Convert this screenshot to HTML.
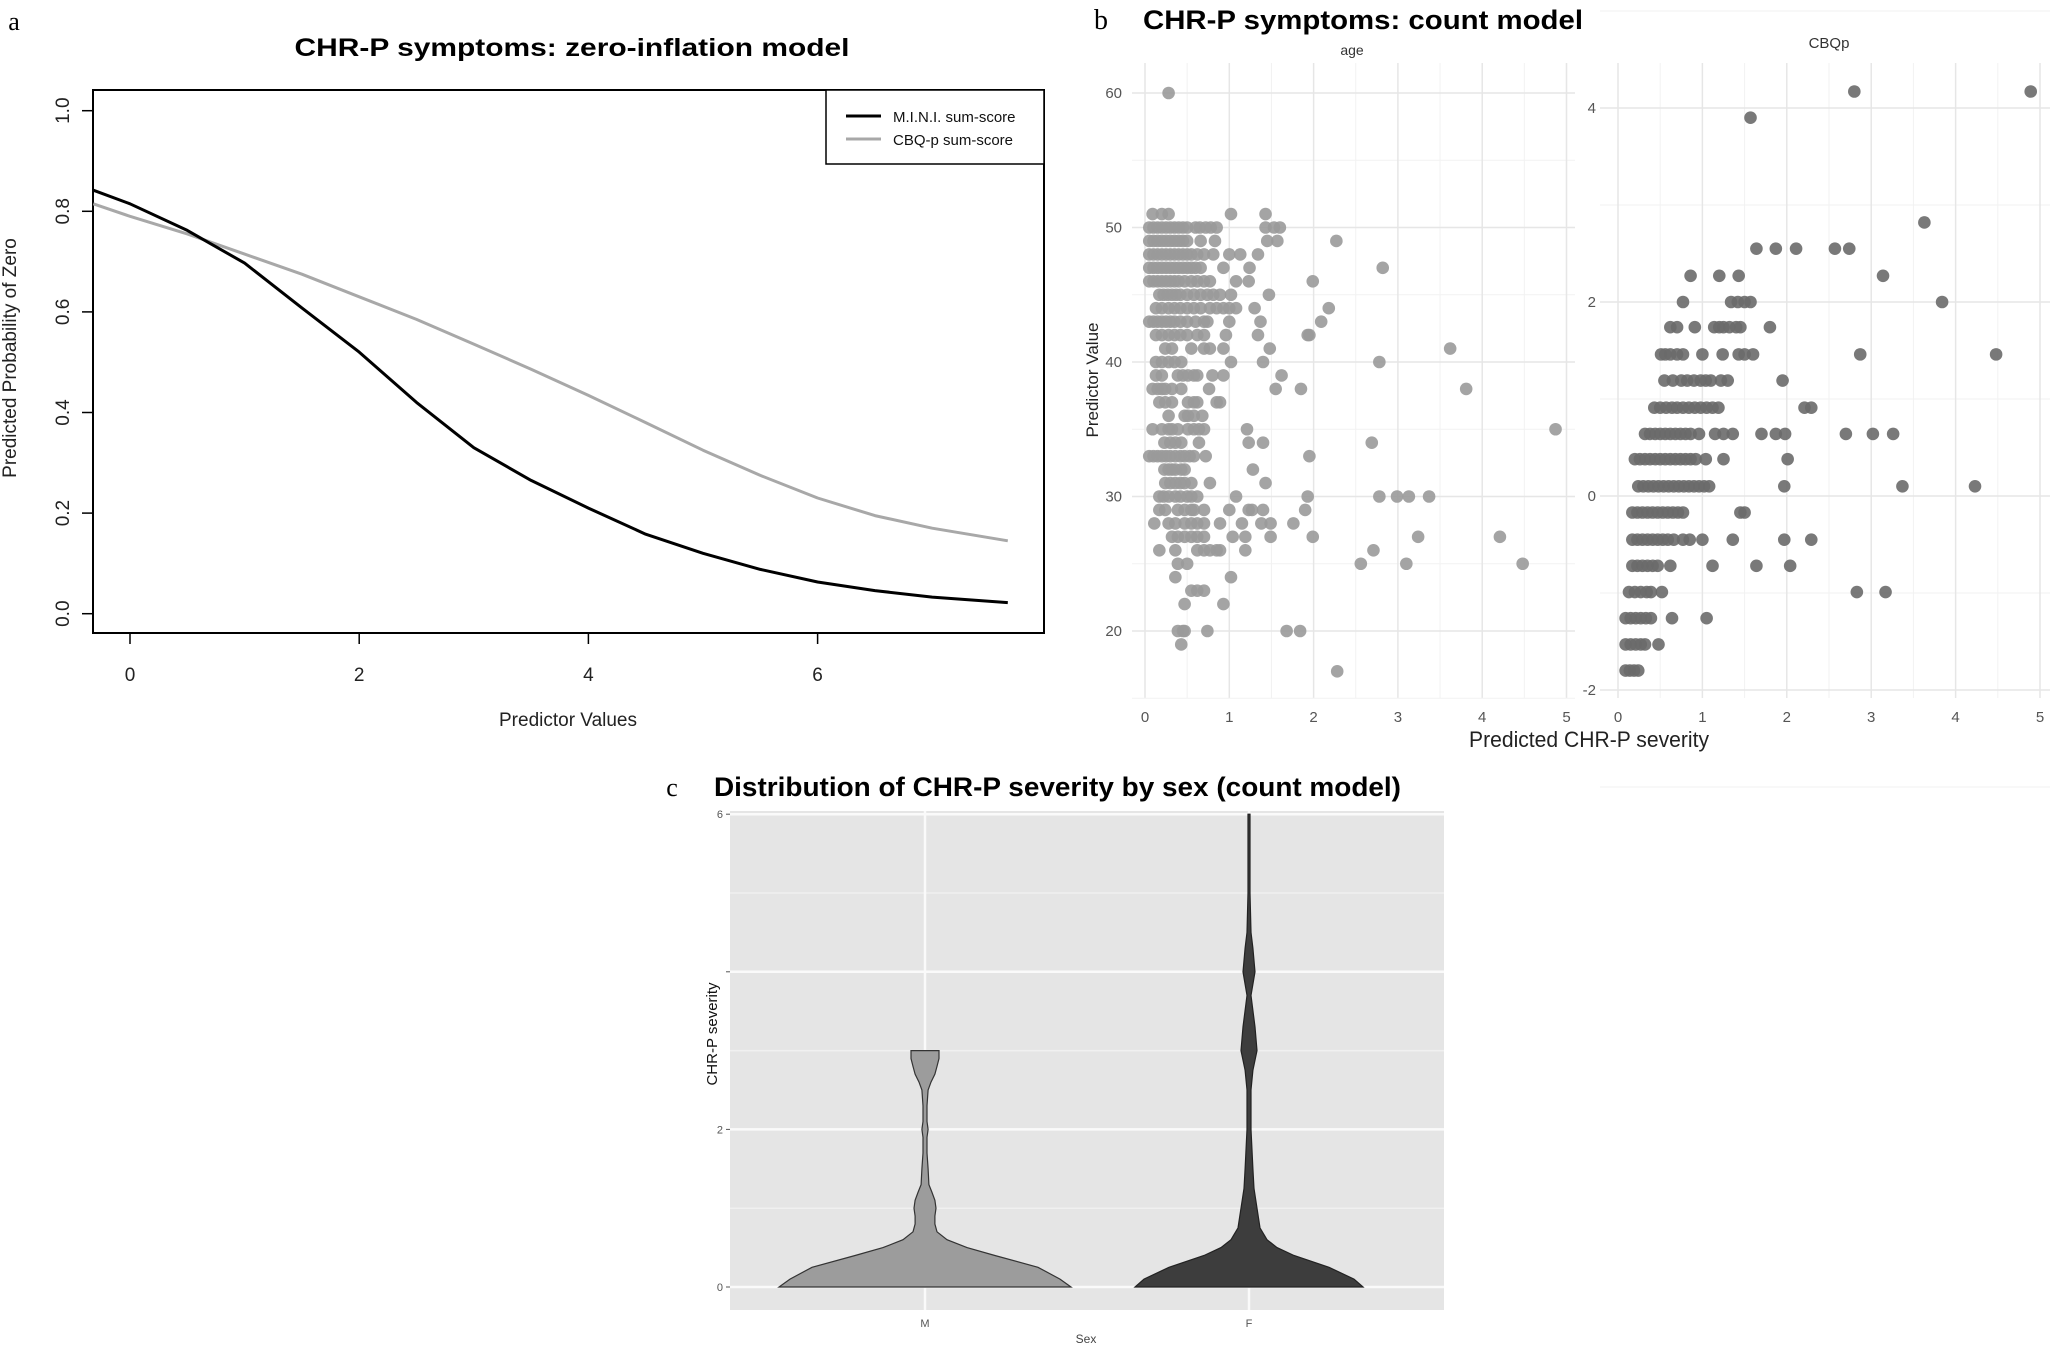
<!DOCTYPE html>
<html><head><meta charset="utf-8"><style>
html,body{margin:0;padding:0;background:#fff;}
svg{display:block;font-family:"Liberation Sans",Arial,sans-serif;}
</style></head><body>
<svg id="fig" width="2053" height="1348" viewBox="0 0 2053 1348" xmlns="http://www.w3.org/2000/svg">
<rect x="0" y="0" width="2053" height="1348" fill="#fff"/>
<g id="pa"></g>
<g id="pb"></g>
<g id="pc"></g>
</svg>
<script>
// ---------- Panel A data ----------
const aX = [-0.32, 0, 0.5, 1, 1.5, 2, 2.5, 3, 3.5, 4, 4.5, 5, 5.5, 6, 6.5, 7, 7.66];
const miniY = [0.842, 0.815, 0.762, 0.697, 0.608, 0.52, 0.42, 0.33, 0.265, 0.21, 0.158, 0.12, 0.088, 0.063, 0.046, 0.033, 0.022];
const cbqY = [0.815, 0.79, 0.755, 0.715, 0.675, 0.63, 0.585, 0.536, 0.486, 0.434, 0.38, 0.325, 0.275, 0.23, 0.195, 0.17, 0.145];
const aXTicks = [0, 2, 4, 6];
const aYTicks = [0, 0.2, 0.4, 0.6, 0.8, 1.0];
const aYTickLabels = ["0.0", "0.2", "0.4", "0.6", "0.8", "1.0"];

// ---------- Panel B data ----------
const ageLevels = [60,51,50,49,48,47,46,45,44,43,42,41,40,39,38,37,36,35,34,33,32,31,30,29,28,27,26,25,24,23,22,20,19,17];
const ageXs = [
[0.28],
[0.09,0.2,0.28,1.02,1.43],
[0.05,0.1,0.15,0.2,0.25,0.3,0.35,0.4,0.45,0.5,0.6,0.65,0.72,0.78,0.85,1.43,1.53,1.6],
[0.05,0.1,0.15,0.2,0.25,0.3,0.35,0.4,0.45,0.5,0.66,0.83,1.45,1.57,2.27],
[0.05,0.1,0.15,0.2,0.25,0.3,0.35,0.4,0.45,0.5,0.55,0.62,0.7,0.81,1.0,1.13,1.34],
[0.05,0.1,0.15,0.2,0.25,0.3,0.35,0.4,0.45,0.5,0.55,0.6,0.66,0.93,1.24,2.82],
[0.05,0.1,0.15,0.2,0.25,0.3,0.35,0.4,0.47,0.55,0.62,0.7,0.77,1.08,1.23,1.99],
[0.17,0.22,0.27,0.32,0.37,0.42,0.5,0.58,0.66,0.74,0.81,0.89,1.02,1.47],
[0.13,0.2,0.28,0.35,0.42,0.5,0.58,0.66,0.77,0.85,0.93,1.0,1.08,1.3,2.18],
[0.05,0.1,0.15,0.2,0.25,0.3,0.35,0.42,0.5,0.6,0.7,0.74,1.0,1.37,2.09],
[0.13,0.2,0.28,0.35,0.42,0.5,0.62,0.7,0.96,1.34,1.93,1.95],
[0.24,0.32,0.55,0.7,0.77,0.93,1.48,3.62],
[0.13,0.2,0.28,0.35,0.43,1.02,1.4,2.78],
[0.13,0.2,0.39,0.45,0.51,0.58,0.62,0.8,0.93,1.62],
[0.09,0.15,0.2,0.24,0.32,0.43,0.76,1.55,1.85,3.81],
[0.17,0.24,0.32,0.51,0.58,0.62,0.85,0.89],
[0.28,0.47,0.51,0.58,0.68],
[0.09,0.2,0.28,0.32,0.39,0.51,0.58,0.64,0.7,1.21,4.87],
[0.23,0.3,0.36,0.43,0.64,1.23,1.4,2.69],
[0.05,0.1,0.15,0.2,0.25,0.3,0.36,0.42,0.47,0.53,0.58,0.72,1.95],
[0.23,0.28,0.32,0.36,0.43,0.47,1.28],
[0.24,0.3,0.36,0.42,0.47,0.55,0.77,1.43],
[0.17,0.22,0.28,0.36,0.42,0.5,0.55,0.62,1.08,1.93,2.78,2.99,3.13,3.37],
[0.17,0.24,0.39,0.47,0.55,0.58,0.7,1.0,1.23,1.27,1.4,1.9],
[0.11,0.28,0.36,0.47,0.55,0.62,0.7,0.89,1.15,1.38,1.49,1.76],
[0.32,0.39,0.47,0.55,0.62,0.7,1.04,1.19,1.49,1.99,3.24,4.21],
[0.17,0.36,0.62,0.7,0.77,0.85,0.89,1.19,2.71],
[0.39,0.5,2.56,3.1,4.48],
[0.36,1.02],
[0.55,0.62,0.7],
[0.47,0.93],
[0.39,0.45,0.47,0.74,1.68,1.84],
[0.43],
[2.28]
];
const cbqLevels = [4.17,3.9,2.82,2.55,2.27,2.0,1.74,1.46,1.19,0.91,0.64,0.38,0.1,-0.17,-0.45,-0.72,-0.99,-1.26,-1.53,-1.8];
const cbqXs = [
[2.8,4.89],
[1.57],
[3.63],
[1.64,1.87,2.11,2.57,2.74],
[0.86,1.2,1.43,3.14],
[0.77,1.34,1.42,1.5,1.57,3.84],
[0.62,0.7,0.91,1.14,1.2,1.25,1.32,1.4,1.45,1.8],
[0.51,0.56,0.62,0.7,0.77,1.0,1.24,1.43,1.5,1.6,2.87,4.48],
[0.55,0.65,0.75,0.82,0.9,0.98,1.04,1.1,1.22,1.3,1.95],
[0.43,0.5,0.57,0.64,0.7,0.77,0.84,0.91,0.98,1.05,1.12,1.19,2.21,2.29],
[0.32,0.38,0.44,0.5,0.56,0.62,0.68,0.74,0.8,0.86,0.96,1.15,1.25,1.36,1.7,1.87,1.98,2.7,3.02,3.26],
[0.2,0.26,0.32,0.38,0.44,0.5,0.56,0.62,0.68,0.74,0.8,0.86,0.92,1.04,1.25,2.01],
[0.24,0.3,0.36,0.42,0.48,0.54,0.6,0.66,0.72,0.78,0.84,0.9,0.96,1.02,1.08,1.97,3.37,4.23],
[0.17,0.23,0.29,0.35,0.41,0.47,0.53,0.59,0.65,0.71,0.77,1.45,1.5],
[0.17,0.23,0.29,0.35,0.41,0.47,0.53,0.59,0.66,0.77,0.85,1.0,1.36,1.97,2.29],
[0.17,0.23,0.29,0.35,0.41,0.47,0.62,1.12,1.64,2.04],
[0.13,0.2,0.27,0.34,0.39,0.52,2.83,3.17],
[0.09,0.15,0.21,0.27,0.33,0.39,0.64,1.05],
[0.09,0.15,0.21,0.27,0.32,0.48],
[0.09,0.14,0.19,0.24]
];
const bXTicks = [0,1,2,3,4,5];
const ageYTicks = [20,30,40,50,60];
const cbqYTicks = [-2,0,2,4];

// ---------- Panel C data ----------
const sexCats = ["M","F"];
const mLevels = [0,0.1,0.25,0.4,0.5,0.6,0.7,0.8,0.9,1.0,1.1,1.2,1.3,1.5,1.7,1.9,2.0,2.1,2.3,2.5,2.6,2.7,2.8,2.9,3.0];
const mDensity = [1.0,0.925,0.774,0.479,0.288,0.151,0.082,0.068,0.068,0.075,0.068,0.048,0.027,0.021,0.014,0.014,0.021,0.014,0.014,0.021,0.041,0.068,0.082,0.096,0.096];
const fLevels = [0,0.1,0.25,0.4,0.5,0.6,0.75,1.0,1.25,1.5,2.0,2.5,2.75,3.0,3.3,3.7,4.0,4.3,4.5,5.0,6.0];
const fDensity = [0.781,0.719,0.548,0.308,0.192,0.123,0.075,0.055,0.034,0.027,0.014,0.014,0.027,0.055,0.041,0.014,0.041,0.027,0.014,0.007,0.007];
const cYTicks = [0,2,4,6];
const cYTickLabels = ["0","2","","6"];

const NS = "http://www.w3.org/2000/svg";
function mk(parent, tag, attrs, text){
  const e = document.createElementNS(NS, tag);
  for (const k in attrs) e.setAttribute(k, attrs[k]);
  if (text !== undefined) e.textContent = text;
  parent.appendChild(e);
  return e;
}

// ================= PANEL A =================
const pa = document.getElementById('pa');
const ax = v => 130 + v*114.6;
const ay = v => 613.7 - v*503.0;
let t;
t = mk(pa,'text',{x:14,y:30,'font-family':'Liberation Serif, serif','font-size':26,'text-anchor':'middle'},'a');


t = mk(pa,'text',{x:572,y:56,'font-size':25,'font-weight':'bold','text-anchor':'middle',textLength:555,lengthAdjust:'spacingAndGlyphs'},'CHR-P symptoms: zero-inflation model');


t = mk(pa,'rect',{x:93,y:90,width:951,height:543,fill:'none',stroke:'#000','stroke-width':2});


aXTicks.forEach(v=>{
  const tk = mk(pa,'line',{x1:ax(v),x2:ax(v),y1:633,y2:644,stroke:'#000','stroke-width':1.5});
  
  
  const lb = mk(pa,'text',{x:ax(v),y:681,'font-size':19,'text-anchor':'middle',fill:'#222'},String(v));
  
  
});
aYTicks.forEach((v,i)=>{
  const tk = mk(pa,'line',{x1:82,x2:93,y1:ay(v),y2:ay(v),stroke:'#000','stroke-width':1.5});
  
  
  const lb = mk(pa,'text',{x:0,y:0,'font-size':19,'text-anchor':'middle',fill:'#222',transform:`translate(69,${ay(v)}) rotate(-90)`},aYTickLabels[i]);
  
  
});
t = mk(pa,'text',{x:0,y:0,'font-size':19,'text-anchor':'middle',fill:'#222',transform:'translate(16,358) rotate(-90)'},'Predicted Probability of Zero');


t = mk(pa,'text',{x:568,y:726,'font-size':19,'text-anchor':'middle',fill:'#222'},'Predictor Values');


function curve(ys){ return ys.map((y,i)=>(i?'L':'M')+ax(aX[i]).toFixed(1)+','+ay(y).toFixed(1)).join(' '); }
t = mk(pa,'path',{d:curve(cbqY),fill:'none',stroke:'#a8a8a8','stroke-width':3,'stroke-linejoin':'round'});


t = mk(pa,'path',{d:curve(miniY),fill:'none',stroke:'#000','stroke-width':3,'stroke-linejoin':'round'});


const lg = mk(pa,'g',{});


mk(lg,'rect',{x:826,y:90,width:218,height:74,fill:'#fff',stroke:'#000','stroke-width':1.5});
t = mk(lg,'line',{x1:846,x2:881,y1:116,y2:116,stroke:'#000','stroke-width':3});


t = mk(lg,'text',{x:893,y:122,'font-size':15,fill:'#111'},'M.I.N.I. sum-score');


t = mk(lg,'line',{x1:846,x2:881,y1:139,y2:139,stroke:'#a8a8a8','stroke-width':3});


t = mk(lg,'text',{x:893,y:145,'font-size':15,fill:'#111'},'CBQ-p sum-score');



// ================= PANEL B =================
const pb = document.getElementById('pb');
const lx = v => 1145 + v*84.3;
const ly = a => 93 + (60-a)*13.45;
const rx = v => 1618 + v*84.4;
const ry = c => 496 - c*97;
t = mk(pb,'text',{x:1101,y:29,'font-family':'Liberation Serif, serif','font-size':28,'text-anchor':'middle'},'b');


t = mk(pb,'text',{x:1143,y:29,'font-size':27,'font-weight':'bold',textLength:440,lengthAdjust:'spacingAndGlyphs'},'CHR-P symptoms: count model');


function facetGrid(g, x0, x1, y0, y1, xs, xfn, yticks, yfn){
  for(let i=0;i<xs.length-1;i++){
    const m = (xs[i]+xs[i+1])/2;
    mk(g,'line',{x1:xfn(m),x2:xfn(m),y1:y0,y2:y1,stroke:'#f2f2f2','stroke-width':1});
  }
  for(let i=0;i<yticks.length-1;i++){
    const m = (yticks[i]+yticks[i+1])/2;
    mk(g,'line',{x1:x0,x2:x1,y1:yfn(m),y2:yfn(m),stroke:'#f2f2f2','stroke-width':1});
  }
  xs.forEach(v=>mk(g,'line',{x1:xfn(v),x2:xfn(v),y1:y0,y2:y1,stroke:'#e6e6e6','stroke-width':1.5}));
  yticks.forEach(v=>mk(g,'line',{x1:x0,x2:x1,y1:yfn(v),y2:yfn(v),stroke:'#e6e6e6','stroke-width':1.5}));
}
const gl = mk(pb,'g',{});


facetGrid(gl,1132,1575,63,698,bXTicks,lx,ageYTicks,ly);
const gr = mk(pb,'g',{});


facetGrid(gr,1600,2050,63,698,bXTicks,rx,[-2,0,2,4],ry);
mk(gr,'line',{x1:1600,x2:2050,y1:ry(5),y2:ry(5),stroke:'#f2f2f2','stroke-width':1});
mk(gr,'line',{x1:1600,x2:2050,y1:ry(-3),y2:ry(-3),stroke:'#f2f2f2','stroke-width':1});
mk(gl,'line',{x1:1132,x2:1575,y1:ly(15),y2:ly(15),stroke:'#f2f2f2','stroke-width':1});
t = mk(pb,'text',{x:1352,y:55,'font-size':14,'text-anchor':'middle',fill:'#333'},'age');


t = mk(pb,'text',{x:1829,y:48,'font-size':15,'text-anchor':'middle',fill:'#333'},'CBQp');


bXTicks.forEach(v=>{
  let e = mk(pb,'text',{x:lx(v),y:722,'font-size':15,'text-anchor':'middle',fill:'#555'},String(v));
  
  
  e = mk(pb,'text',{x:rx(v),y:722,'font-size':15,'text-anchor':'middle',fill:'#555'},String(v));
  
  
});
ageYTicks.forEach(v=>{
  const e = mk(pb,'text',{x:1122,y:ly(v)+5,'font-size':15,'text-anchor':'end',fill:'#555'},String(v));
  
  
});
cbqYTicks.forEach(v=>{
  const e = mk(pb,'text',{x:1596,y:ry(v)+5,'font-size':15,'text-anchor':'end',fill:'#555'},String(v));
  
  
});
t = mk(pb,'text',{x:0,y:0,'font-size':17,'text-anchor':'middle',fill:'#222',transform:'translate(1098,380) rotate(-90)'},'Predictor Value');


t = mk(pb,'text',{x:1589,y:747,'font-size':22,'text-anchor':'middle',fill:'#222',textLength:240,lengthAdjust:'spacingAndGlyphs'},'Predicted CHR-P severity');


const ptsL = mk(pb,'g',{});


ageLevels.forEach((a,i)=>ageXs[i].forEach(v=>{
  const c = mk(ptsL,'circle',{cx:lx(v),cy:ly(a),r:6.3,fill:'#9a9a9a','fill-opacity':0.9});
  
  
}));
const ptsR = mk(pb,'g',{});


cbqLevels.forEach((lv,i)=>cbqXs[i].forEach(v=>{
  const c = mk(ptsR,'circle',{cx:rx(v),cy:ry(lv),r:6.3,fill:'#6a6a6a','fill-opacity':0.9});
  
  
}));

// ================= PANEL C =================
const pc = document.getElementById('pc');
const cy = v => 1287 - v*78.8;
const cx = {M:925, F:1249};
const wScale = 146;
t = mk(pc,'text',{x:672,y:796,'font-family':'Liberation Serif, serif','font-size':26,'text-anchor':'middle'},'c');


t = mk(pc,'text',{x:714,y:796,'font-size':27,'font-weight':'bold',textLength:687,lengthAdjust:'spacingAndGlyphs'},'Distribution of CHR-P severity by sex (count model)');


t = mk(pc,'rect',{x:730,y:811,width:714,height:499,fill:'#e5e5e5'});


[1,3,5].forEach(v=>mk(pc,'line',{x1:730,x2:1444,y1:cy(v),y2:cy(v),stroke:'#f0f0f0','stroke-width':1.5}));
cYTicks.forEach((v,i)=>{
  mk(pc,'line',{x1:730,x2:1444,y1:cy(v),y2:cy(v),stroke:'#fafafa','stroke-width':2.5});
  mk(pc,'line',{x1:726,x2:730,y1:cy(v),y2:cy(v),stroke:'#555','stroke-width':1});
  const e = mk(pc,'text',{x:723,y:cy(v)+4,'font-size':11,'text-anchor':'end',fill:'#555'},cYTickLabels[i]);
  
  
});
sexCats.forEach(s=>{
  mk(pc,'line',{x1:cx[s],x2:cx[s],y1:811,y2:1310,stroke:'#fafafa','stroke-width':2.5});
  const e = mk(pc,'text',{x:cx[s],y:1327,'font-size':11,'text-anchor':'middle',fill:'#555'},s);
  
  
});
function violin(levels, dens, c){
  const right = levels.map((v,i)=>[c+dens[i]*wScale, cy(v)]);
  const left = levels.map((v,i)=>[c-dens[i]*wScale, cy(v)]).reverse();
  return 'M'+right.concat(left).map(p=>p[0].toFixed(1)+','+p[1].toFixed(1)).join(' L')+' Z';
}
t = mk(pc,'path',{d:violin(mLevels,mDensity,cx.M),fill:'#9c9c9c',stroke:'#333','stroke-width':1.2});


t = mk(pc,'path',{d:violin(fLevels,fDensity,cx.F),fill:'#3d3d3d',stroke:'#222','stroke-width':1.2});


t = mk(pc,'text',{x:0,y:0,'font-size':15,'text-anchor':'middle',fill:'#111',transform:'translate(717,1034) rotate(-90)'},'CHR-P severity');


t = mk(pc,'text',{x:1086,y:1343,'font-size':12,'text-anchor':'middle',fill:'#444'},'Sex');


</script>
</body></html>
